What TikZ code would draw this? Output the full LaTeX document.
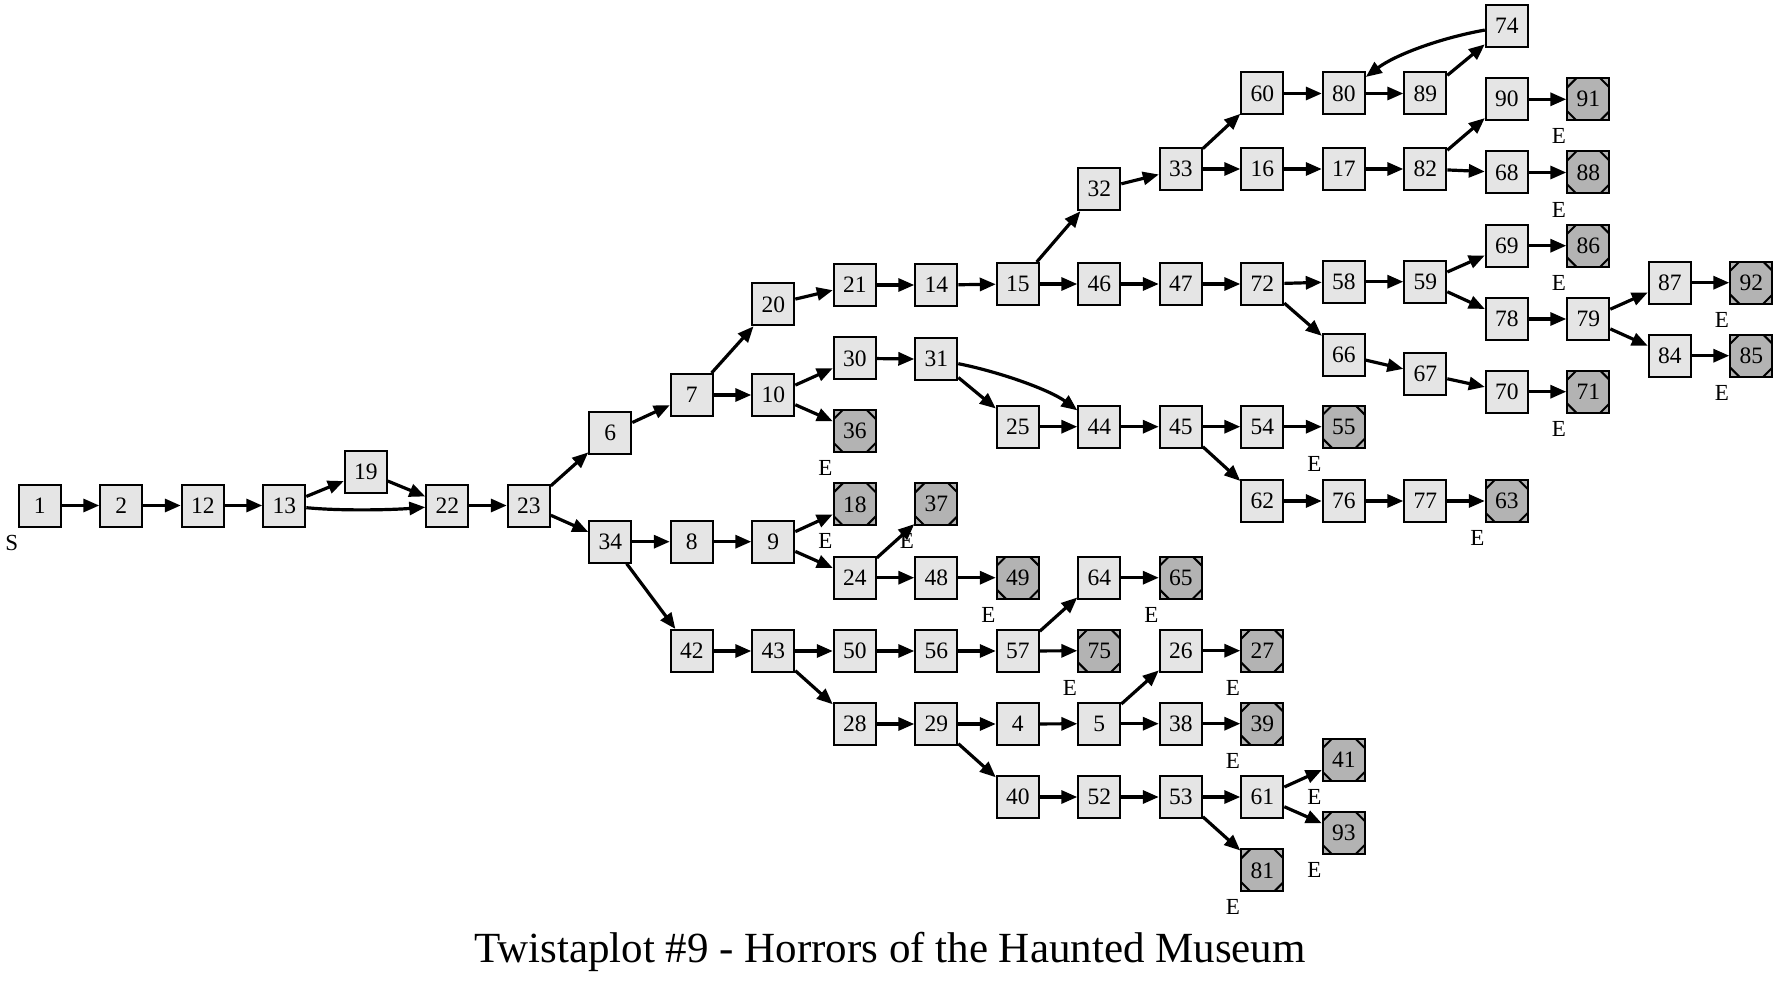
\documentclass[tikz,border=0pt]{standalone}
\usepackage{fontspec}
\setmainfont{Liberation Serif}
\usetikzlibrary{arrows.meta}
\definecolor{nfill}{HTML}{E5E5E5}
\definecolor{tfill}{HTML}{B3B3B3}
\tikzset{
  nd/.style={draw=black, fill=nfill, line width=2pt, minimum size=42pt, inner sep=0pt,
    font=\fontsize{23.5}{23.5}\selectfont},
  term/.style={nd, fill=tfill,
    path picture={
      \draw[line width=2pt] ([xshift=9pt]path picture bounding box.north west) -- ([yshift=-9pt]path picture bounding box.north west);
      \draw[line width=2pt] ([xshift=-9pt]path picture bounding box.north east) -- ([yshift=-9pt]path picture bounding box.north east);
      \draw[line width=2pt] ([xshift=9pt]path picture bounding box.south west) -- ([yshift=9pt]path picture bounding box.south west);
      \draw[line width=2pt] ([xshift=-9pt]path picture bounding box.south east) -- ([yshift=9pt]path picture bounding box.south east);
    },
    label={[lbl, xshift=-29.5pt, yshift=-37pt]center:E}},
  lbl/.style={inner sep=0pt, font=\fontsize{23}{23}\selectfont},
  edge/.style={line width=3.2pt, -{Triangle[length=16pt,width=13pt]}},
}
\begin{document}
\begin{tikzpicture}[x=1pt, y=-1pt]
\useasboundingbox (0,0) rectangle (1779,987);
% column 0-6
\node[nd, label={[lbl, xshift=-28pt, yshift=-37pt]center:S}] (n1) at (39.8,505.5) {1};
\node[nd] (n2) at (121.3,505.5) {2};
\node[nd] (n12) at (202.8,505.5) {12};
\node[nd] (n13) at (284.3,505.5) {13};
\node[nd] (n19) at (365.8,472) {19};
\node[nd] (n22) at (447.3,505.5) {22};
\node[nd] (n23) at (528.8,505.5) {23};
% c7
\node[nd] (n6) at (610.3,432.7) {6};
\node[nd] (n34) at (610.3,541.7) {34};
% c8
\node[nd] (n7) at (691.8,395) {7};
\node[nd] (n8) at (691.8,541.7) {8};
\node[nd] (n42) at (691.8,651) {42};
% c9
\node[nd] (n20) at (773.3,304.3) {20};
\node[nd] (n10) at (773.3,395) {10};
\node[nd] (n9) at (773.3,541.7) {9};
\node[nd] (n43) at (773.3,651) {43};
% c10
\node[nd] (n21) at (854.8,285) {21};
\node[nd] (n30) at (854.8,358.3) {30};
\node[term] (n36) at (854.8,431) {36};
\node[term] (n18) at (854.8,504.3) {18};
\node[nd] (n24) at (854.8,577.7) {24};
\node[nd] (n50) at (854.8,651) {50};
\node[nd] (n28) at (854.8,724) {28};
% c11
\node[nd] (n14) at (936.3,285) {14};
\node[nd] (n31) at (936.3,359.3) {31};
\node[term] (n37) at (936.3,504.3) {37};
\node[nd] (n48) at (936.3,577.7) {48};
\node[nd] (n56) at (936.3,651) {56};
\node[nd] (n29) at (936.3,724) {29};
% c12
\node[nd] (n15) at (1017.8,284) {15};
\node[nd] (n25) at (1017.8,426.7) {25};
\node[term] (n49) at (1017.8,577.7) {49};
\node[nd] (n57) at (1017.8,651) {57};
\node[nd] (n4) at (1017.8,724) {4};
\node[nd] (n40) at (1017.8,797) {40};
% c13
\node[nd] (n32) at (1099.3,189.3) {32};
\node[nd] (n46) at (1099.3,284) {46};
\node[nd] (n44) at (1099.3,426.7) {44};
\node[nd] (n64) at (1099.3,577.7) {64};
\node[term] (n75) at (1099.3,650.7) {75};
\node[nd] (n5) at (1099.3,723.7) {5};
\node[nd] (n52) at (1099.3,797) {52};
% c14
\node[nd] (n33) at (1180.8,169) {33};
\node[nd] (n47) at (1180.8,284) {47};
\node[nd] (n45) at (1180.8,426.7) {45};
\node[term] (n65) at (1180.8,577.7) {65};
\node[nd] (n26) at (1180.8,650.7) {26};
\node[nd] (n38) at (1180.8,723.7) {38};
\node[nd] (n53) at (1180.8,797) {53};
% c15
\node[nd] (n60) at (1262.3,93.5) {60};
\node[nd] (n16) at (1262.3,169) {16};
\node[nd] (n72) at (1262.3,284) {72};
\node[nd] (n54) at (1262.3,426.7) {54};
\node[nd] (n62) at (1262.3,501) {62};
\node[term] (n27) at (1262.3,650.7) {27};
\node[term] (n39) at (1262.3,723.7) {39};
\node[nd] (n61) at (1262.3,797) {61};
\node[term] (n81) at (1262.3,870.3) {81};
% c16
\node[nd] (n80) at (1343.8,93.5) {80};
\node[nd] (n17) at (1343.8,169) {17};
\node[nd] (n58) at (1343.8,281.7) {58};
\node[nd] (n66) at (1343.8,355) {66};
\node[term] (n55) at (1343.8,426.7) {55};
\node[nd] (n76) at (1343.8,501) {76};
\node[term] (n41) at (1343.8,760) {41};
\node[term] (n93) at (1343.8,833) {93};
% c17
\node[nd] (n89) at (1425.3,93.5) {89};
\node[nd] (n82) at (1425.3,169) {82};
\node[nd] (n59) at (1425.3,281.7) {59};
\node[nd] (n67) at (1425.3,374) {67};
\node[nd] (n77) at (1425.3,501) {77};
% c18
\node[nd] (n74) at (1506.8,26.2) {74};
\node[nd] (n90) at (1506.8,99.3) {90};
\node[nd] (n68) at (1506.8,172.5) {68};
\node[nd] (n69) at (1506.8,245.7) {69};
\node[nd] (n78) at (1506.8,319) {78};
\node[nd] (n70) at (1506.8,391.7) {70};
\node[term] (n63) at (1506.8,501) {63};
% c19
\node[term] (n91) at (1588.3,99.3) {91};
\node[term] (n88) at (1588.3,172.5) {88};
\node[term] (n86) at (1588.3,245.7) {86};
\node[nd] (n79) at (1588.3,319) {79};
\node[term] (n71) at (1588.3,391.7) {71};
% c20, c21
\node[nd] (n87) at (1669.8,282.7) {87};
\node[nd] (n84) at (1669.8,355.7) {84};
\node[term] (n92) at (1751.3,282.7) {92};
\node[term] (n85) at (1751.3,355.7) {85};

% title
\node[anchor=base, inner sep=0pt, font=\fontsize{43}{43}\selectfont] (title) at (890,962.7) {Twistaplot \#9 - Horrors of the Haunted Museum};

% edges
\foreach \a/\b in {1/2,2/12,12/13,13/19,19/22,22/23,23/6,23/34,6/7,7/20,7/10,
  20/21,21/14,14/15,15/32,15/46,32/33,33/60,33/16,60/80,80/89,89/74,
  16/17,17/82,82/90,82/68,90/91,68/88,46/47,47/72,72/58,72/66,58/59,59/69,59/78,
  69/86,78/79,79/87,79/84,87/92,84/85,66/67,67/70,70/71,10/30,10/36,30/31,
  31/25,25/44,44/45,45/54,45/62,54/55,62/76,76/77,77/63,34/8,34/42,8/9,9/18,9/24,
  24/37,24/48,48/49,42/43,43/50,43/28,50/56,56/57,57/64,57/75,64/65,28/29,29/4,29/40,
  4/5,5/26,5/38,26/27,38/39,40/52,52/53,53/61,53/81,61/41,61/93}
  \draw[edge] (n\a) -- (n\b);
\draw[edge] (n13) .. controls (340,511) and (390,510) .. (n22);
\draw[edge] (n31) .. controls (1000,372) and (1050,390) .. (n44);
\draw[edge] (n74) .. controls (1440,38) and (1395,55) .. (n80);
\end{tikzpicture}
\end{document}
